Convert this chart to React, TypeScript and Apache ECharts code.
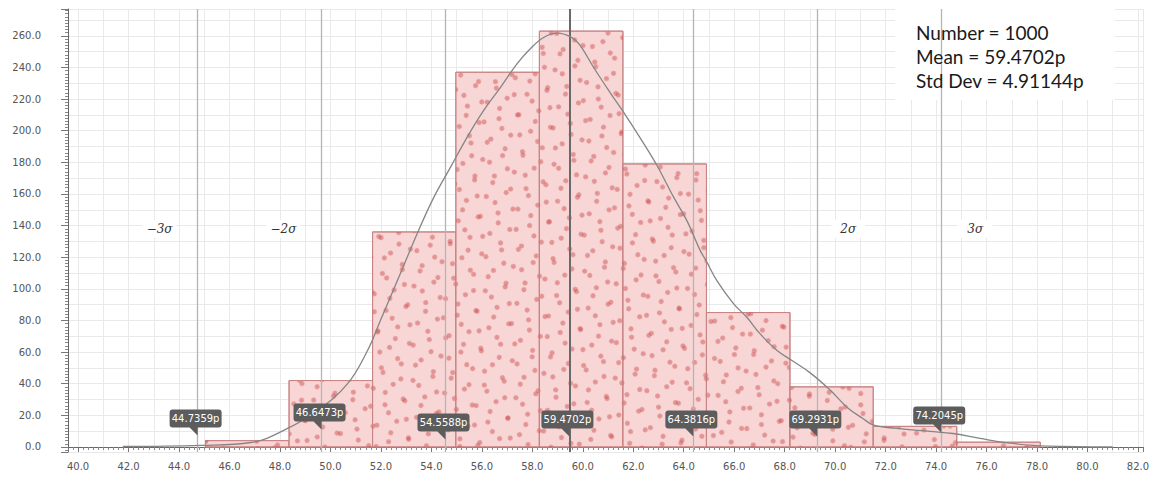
import React, { useEffect, useRef } from "react";
import * as echarts from "echarts";

// ---- data ----
const binEdges = [45.05, 48.36, 51.67, 54.97, 58.28, 61.59, 64.9, 68.21, 71.51, 74.82, 78.13];
const binCounts = [4, 42, 136, 237, 263, 179, 85, 38, 13, 3];

const curveX = [41.77, 44.86, 46.84, 48.3, 49.49, 50.68, 51.47, 51.98, 52.78, 53.44, 54.1, 54.76, 55.42, 56.08, 56.74, 57.4, 57.93, 58.45, 59.0, 59.5, 59.85, 60.43, 61.09, 61.75, 62.41, 62.94, 63.6, 64.13, 64.66, 64.88, 65.32, 65.98, 66.5, 67.03, 67.7, 68.35, 69.0, 69.8, 70.48, 71.1, 71.5, 72.45, 73.76, 74.67, 75.74, 77.05, 78.4, 81.0];
const curveY = [0.3, 1.0, 2.8, 11.7, 23, 40, 61, 80, 110, 135, 158, 177, 196, 213, 227.5, 242.5, 252, 259, 261.7, 259.5, 255, 240, 224, 208.5, 192, 178, 158, 143, 124, 118, 105, 90.5, 82, 71.5, 61, 54, 47, 36, 25, 18, 14, 11.7, 9.8, 8.5, 5.4, 2.2, 0.5, 0];

const meanValue = 59.4702;
const sigmaValues = [44.7359, 49.6473, 54.5588, 64.3816, 69.2931, 74.2045];

const calloutValues = [44.7359, 49.6473, 54.5588, 59.4702, 64.3816, 69.2931, 74.2045];
const calloutTexts = ["44.7359p", "46.6473p", "54.5588p", "59.4702p", "64.3816p", "69.2931p", "74.2045p"];
const calloutTipY = [7.3, 11.1, 4.7, 6.6, 6.6, 6.6, 9.2];

const sigmaLabelTexts = ["\u22123\u03c3", "\u22122\u03c3", "2\u03c3", "3\u03c3"];
const sigmaLabelX = [43.23, 48.14, 70.52, 75.55];
const sigmaLabelY = [138, 138, 138, 138];

const xTickValues = [40, 42, 44, 46, 48, 50, 52, 54, 56, 58, 60, 62, 64, 66, 68, 70, 72, 74, 76, 78, 80, 82];
const yTickValues = [0, 20, 40, 60, 80, 100, 120, 140, 160, 180, 200, 220, 240, 260];

const statsLines = ["Number = 1000", "Mean = 59.4702p", "Std Dev = 4.91144p"];

const X_MIN = 39.6;
const X_MAX = 82.2;
const Y_MIN = -3.2;
const Y_MAX = 277;

const bubblePath =
  "path://M3 0 L49 0 Q52 0 52 3 L52 15 Q52 18 49 18 L28 18 L28 26 L20 18 L3 18 Q0 18 0 15 L0 3 Q0 0 3 0 Z";

export default function App() {
  const ref = useRef<HTMLDivElement>(null);

  useEffect(() => {
    document.body.style.margin = "0";
    if (!ref.current) return;
    const chart = echarts.init(ref.current, undefined, { renderer: "svg" });

    const decalA = {
      symbol: "circle",
      symbolSize: 1,
      color: "rgba(205,80,80,0.5)",
      dashArrayX: [[5, 14], [0, 10, 5, 4]],
      dashArrayY: [5, 13],
      rotation: 0.35,
    };
    const decalB = {
      symbol: "circle",
      symbolSize: 1,
      color: "rgba(205,80,80,0.5)",
      dashArrayX: [[5, 17], [0, 11, 5, 6]],
      dashArrayY: [5, 12],
      rotation: 1.95,
    };

    const histData = binCounts.map((c, i) => [binEdges[i], binEdges[i + 1], c]);
    const curveData = curveX.map((x, i) => [x, curveY[i]]);

    const axisLabelStyle = { color: "#555", fontFamily: "DejaVu Sans", fontSize: 10 };

    const option: any = {
      animation: false,
      grid: { left: 68, right: 11, top: 9, bottom: 30, containLabel: false },
      xAxis: [
        {
          type: "value",
          min: X_MIN,
          max: X_MAX,
          splitNumber: 21,
          position: "bottom",
          axisLine: { show: true, lineStyle: { color: "#666", width: 1 } },
          axisTick: { show: true, length: 5, lineStyle: { color: "#777" } },
          minorTick: { show: true, splitNumber: 10, length: 3, lineStyle: { color: "#888" } },
          axisLabel: {
            ...axisLabelStyle,
            margin: 9,
            customValues: xTickValues,
            formatter: (v: number) => v.toFixed(1),
          },
          splitLine: { show: false },
          minorSplitLine: { show: false },
        },
        {
          type: "value",
          min: X_MIN,
          max: X_MAX,
          splitNumber: 43,
          position: "top",
          axisLine: { show: false },
          axisTick: { show: false },
          axisLabel: { show: false },
          splitLine: { show: true, lineStyle: { color: "#e9e9e9", width: 1 } },
        },
      ],
      yAxis: [
        {
          type: "value",
          min: Y_MIN,
          max: Y_MAX,
          splitNumber: 14,
          axisLine: { show: true, lineStyle: { color: "#666", width: 1 } },
          axisTick: { show: true, length: 7, lineStyle: { color: "#777" } },
          minorTick: { show: true, splitNumber: 10, length: 3, lineStyle: { color: "#888" } },
          axisLabel: {
            ...axisLabelStyle,
            margin: 27,
            customValues: yTickValues,
            formatter: (v: number) => v.toFixed(1),
          },
          splitLine: { show: false },
        },
        {
          type: "value",
          min: Y_MIN,
          max: Y_MAX,
          splitNumber: 28,
          position: "right",
          axisLine: { show: false },
          axisTick: { show: false },
          axisLabel: { show: false },
          splitLine: { show: true, lineStyle: { color: "#e9e9e9", width: 1 } },
        },
      ],
      graphic: [
        {
          type: "rect",
          left: 895,
          top: 9,
          shape: { width: 220, height: 91 },
          style: { fill: "#ffffff" },
          z: 1,
          silent: true,
        },
        {
          type: "text",
          left: 916,
          top: 20,
          z: 100,
          style: {
            text: statsLines.join("\n"),
            font: "19px Lato",
            fill: "#1a1a1a",
            lineHeight: 24.3,
          },
        },
      ],
      series: [
        {
          type: "custom",
          xAxisIndex: 0,
          yAxisIndex: 0,
          z: 2,
          silent: true,
          data: histData,
          renderItem: (params: any, api: any) => {
            const x0 = api.value(0);
            const x1 = api.value(1);
            const c = api.value(2);
            const p0 = api.coord([x0, c]);
            const p1 = api.coord([x1, 0]);
            const shape = { x: p0[0], y: p0[1], width: p1[0] - p0[0], height: p1[1] - p0[1] };
            return {
              type: "group",
              children: [
                {
                  type: "rect",
                  shape,
                  style: { fill: "#f8d6d6", stroke: "#c98585", lineWidth: 1, decal: decalA },
                },
                {
                  type: "rect",
                  shape,
                  style: { fill: "rgba(0,0,0,0)", decal: decalB },
                },
              ],
            };
          },
        },
        {
          type: "line",
          xAxisIndex: 0,
          yAxisIndex: 0,
          z: 5,
          data: curveData,
          smooth: 0.4,
          showSymbol: false,
          silent: true,
          lineStyle: { color: "#858585", width: 1.3 },
          markLine: {
            silent: true,
            z: 4,
            symbol: ["none", "none"],
            label: { show: false },
            data: [
              ...sigmaValues.map((v) => ({
                xAxis: v,
                lineStyle: { color: "#b4b4b4", width: 1.3, type: "solid" },
              })),
              { xAxis: meanValue, lineStyle: { color: "#6a6a6a", width: 2, type: "solid" } },
            ],
          },
          markPoint: {
            silent: true,
            z: 6,
            data: [
              ...sigmaLabelTexts.map((t, i) => ({
                coord: [sigmaLabelX[i], sigmaLabelY[i]],
                symbol: "rect",
                symbolSize: [34, 18],
                itemStyle: { color: "#ffffff" },
                label: {
                  show: true,
                  position: "inside",
                  formatter: t,
                  color: "#333",
                  fontFamily: "DejaVu Serif",
                  fontStyle: "italic",
                  fontSize: 12,
                },
              })),
              ...calloutTexts.map((t, i) => ({
                coord: [calloutValues[i], calloutTipY[i]],
                symbol: bubblePath,
                symbolSize: [52, 26],
                symbolOffset: [-2, -13],
                itemStyle: { color: "#5c5c5c" },
                label: {
                  show: true,
                  position: "inside",
                  offset: [0, -4],
                  formatter: t,
                  color: "#ffffff",
                  fontFamily: "DejaVu Sans",
                  fontSize: 10,
                },
              })),
            ],
          },
        },
      ],
    };

    chart.setOption(option);
    return () => chart.dispose();
  }, []);

  return <div ref={ref} style={{ width: 1154, height: 482 }} />;
}
